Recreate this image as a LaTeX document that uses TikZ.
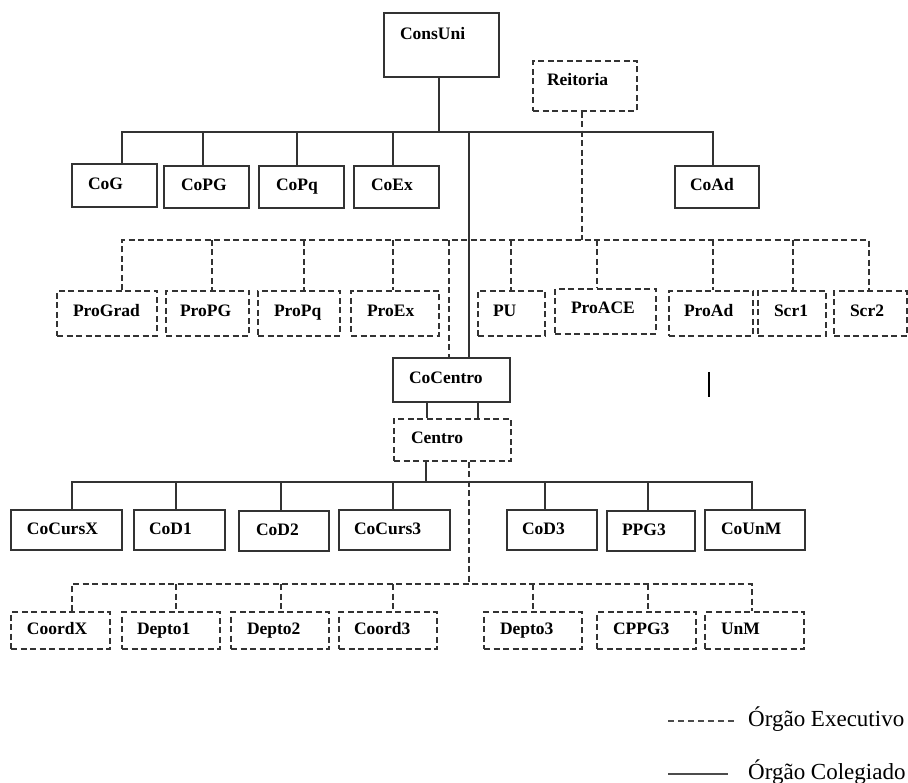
\documentclass[tikz,border=0pt]{standalone}
\usepackage{fontspec}
\setmainfont{Liberation Serif}
\begin{document}
\begin{tikzpicture}[x=1pt,y=-1pt,
  lbl/.style={font=\fontsize{17.5}{20}\selectfont\bfseries, align=left, inner ysep=0pt, text height=12.5pt, text depth=3.5pt},
  sbox/.style={lbl, draw=black!80, line width=1.2pt},
  dbox/.style={lbl, draw=black!80, line width=1.2pt, dash pattern=on 6pt off 3.5pt},
  sline/.style={draw=black!80, line width=1.2pt},
  dline/.style={draw=black!80, line width=1.2pt, dash pattern=on 6pt off 3.5pt},
  legline/.style={draw=black!70, line width=1.3pt},
  legtext/.style={font=\fontsize{23}{26}\selectfont, inner sep=0pt, anchor=base west},
  geo/.style n args={5}{minimum width=#1pt, minimum height=#2pt, text width=#3pt, inner xsep=#4pt, text depth=#5pt}
]
\useasboundingbox (0,0) rectangle (908,783);

% top level
\node[sbox, geo={115}{64}{83}{16}{23.7}] (ConsUni) at (441.5,45) {ConsUni};
\node[dbox, geo={104}{50}{76}{14}{12.7}] (Reitoria) at (585,86) {Reitoria};

% councils row
\node[sbox, geo={85}{43}{53}{16}{4.7}] (CoG) at (114.5,185.5) {CoG};
\node[sbox, geo={85}{42}{51}{17}{4.7}] (CoPG) at (206.5,187) {CoPG};
\node[sbox, geo={85}{42}{51}{17}{4.7}] (CoPq) at (301.5,187) {CoPq};
\node[sbox, geo={85}{42}{51}{17}{4.7}] (CoEx) at (396.5,187) {CoEx};
\node[sbox, geo={84}{42}{54}{15}{4.7}] (CoAd) at (717,187) {CoAd};

% pro-rectors row
\node[dbox, geo={100}{45}{68}{16}{6.7}] (ProGrad) at (107,313.5) {ProGrad};
\node[dbox, geo={83}{45}{55}{14}{6.7}] (ProPG) at (207.5,313.5) {ProPG};
\node[dbox, geo={82}{45}{50}{16}{6.7}] (ProPq) at (299,313.5) {ProPq};
\node[dbox, geo={88}{45}{56}{16}{6.7}] (ProEx) at (395,313.5) {ProEx};
\node[dbox, geo={67}{45}{37}{15}{6.7}] (PU) at (511.5,313.5) {PU};
\node[dbox, geo={101}{45}{69}{16}{7.7}] (ProACE) at (605.5,311.5) {ProACE};
\node[dbox, geo={84}{45}{54}{15}{6.7}] (ProAd) at (711,313.5) {ProAd};
\node[dbox, geo={68}{45}{36}{16}{6.7}] (Scr1) at (792,313.5) {Scr1};
\node[dbox, geo={73}{45}{41}{16}{6.7}] (Scr2) at (870.5,313.5) {Scr2};

% centre
\node[sbox, geo={117}{44}{85}{16}{4.7}] (CoCentro) at (451.5,380) {CoCentro};
\node[dbox, geo={117}{42}{83}{17}{4.7}] (Centro) at (452.5,440) {Centro};

% centre councils row
\node[sbox, geo={111}{40}{79}{16}{2.7}] (CoCursX) at (66.5,530) {CoCursX};
\node[sbox, geo={91}{40}{61}{15}{2.7}] (CoD1) at (179.5,530) {CoD1};
\node[sbox, geo={90}{40}{56}{17}{2.7}] (CoD2) at (284,531) {CoD2};
\node[sbox, geo={111}{40}{81}{15}{2.7}] (CoCurs3) at (394.5,530) {CoCurs3};
\node[sbox, geo={90}{40}{60}{15}{2.7}] (CoD3) at (552,530) {CoD3};
\node[sbox, geo={88}{40}{58}{15}{2.7}] (PPG3) at (651,531) {PPG3};
\node[sbox, geo={100}{40}{68}{16}{2.7}] (CoUnM) at (755,530) {CoUnM};

% centre executive row
\node[dbox, geo={99}{37}{67}{16}{3.7}] (CoordX) at (60.5,630.5) {CoordX};
\node[dbox, geo={98}{37}{68}{15}{3.7}] (Depto1) at (171,630.5) {Depto1};
\node[dbox, geo={98}{37}{66}{16}{3.7}] (Depto2) at (280,630.5) {Depto2};
\node[dbox, geo={98}{37}{68}{15}{3.7}] (Coord3) at (388,630.5) {Coord3};
\node[dbox, geo={98}{37}{66}{16}{3.7}] (Depto3) at (533,630.5) {Depto3};
\node[dbox, geo={99}{37}{67}{16}{3.7}] (CPPG3) at (646.5,630.5) {CPPG3};
\node[dbox, geo={99}{37}{67}{16}{3.7}] (UnM) at (754.5,630.5) {UnM};

% junctions
\coordinate (j1) at (439,132);
\coordinate (j2) at (582,240);
\coordinate (j3) at (426,482);
\coordinate (j4) at (469,584);

% ConsUni tree (solid)
\draw[sline] (ConsUni.south -| j1) -- (j1);
\draw[sline] (CoG.north -| 122,0) |- (j1) -| (CoAd.north -| 713,0);
\foreach \n/\x in {CoPG/203, CoPq/297, CoEx/393, CoCentro/469}
  \draw[sline] (j1 -| \x,0) -- (\n.north -| \x,0);

% Reitoria tree (dashed)
\draw[dline] (Reitoria.south -| j2) -- (j2);
\draw[dline] (ProGrad.north -| 122,0) |- (j2) -| (Scr2.north -| 869,0);
\foreach \n/\x in {ProPG/212, ProPq/304, ProEx/393, CoCentro/449, PU/511, ProACE/597, ProAd/713, Scr1/793}
  \draw[dline] (j2 -| \x,0) -- (\n.north -| \x,0);

% CoCentro - Centro
\draw[sline] (CoCentro.south -| 427,0) -- (Centro.north -| 427,0);
\draw[sline] (CoCentro.south -| 478,0) -- (Centro.north -| 478,0);

% Centro councils (solid)
\draw[sline] (Centro.south -| j3) -- (j3);
\draw[sline] (CoCursX.north -| 72,0) |- (j3) -| (CoUnM.north -| 752,0);
\foreach \n/\x in {CoD1/176, CoD2/281, CoCurs3/393, CoD3/545, PPG3/648}
  \draw[sline] (j3 -| \x,0) -- (\n.north -| \x,0);

% Centro executive (dashed)
\draw[dline] (Centro.south -| j4) -- (j4);
\draw[dline] (CoordX.north -| 72,0) |- (j4) -| (UnM.north -| 752,0);
\foreach \n/\x in {Depto1/176, Depto2/281, Coord3/393, Depto3/533, CPPG3/648}
  \draw[dline] (j4 -| \x,0) -- (\n.north -| \x,0);

% stray mark
\draw[black, line width=2pt] (709,372) -- (709,397);

% legend
\node[legtext] (legE) at (748,726.5) {Órgão Executivo};
\node[legtext] (legC) at (748,779) {Órgão Colegiado};
\draw[legline, dash pattern=on 6pt off 4pt] (668,721) -- (735,721);
\draw[legline] (668,774) -- (728,774);
\end{tikzpicture}
\end{document}
